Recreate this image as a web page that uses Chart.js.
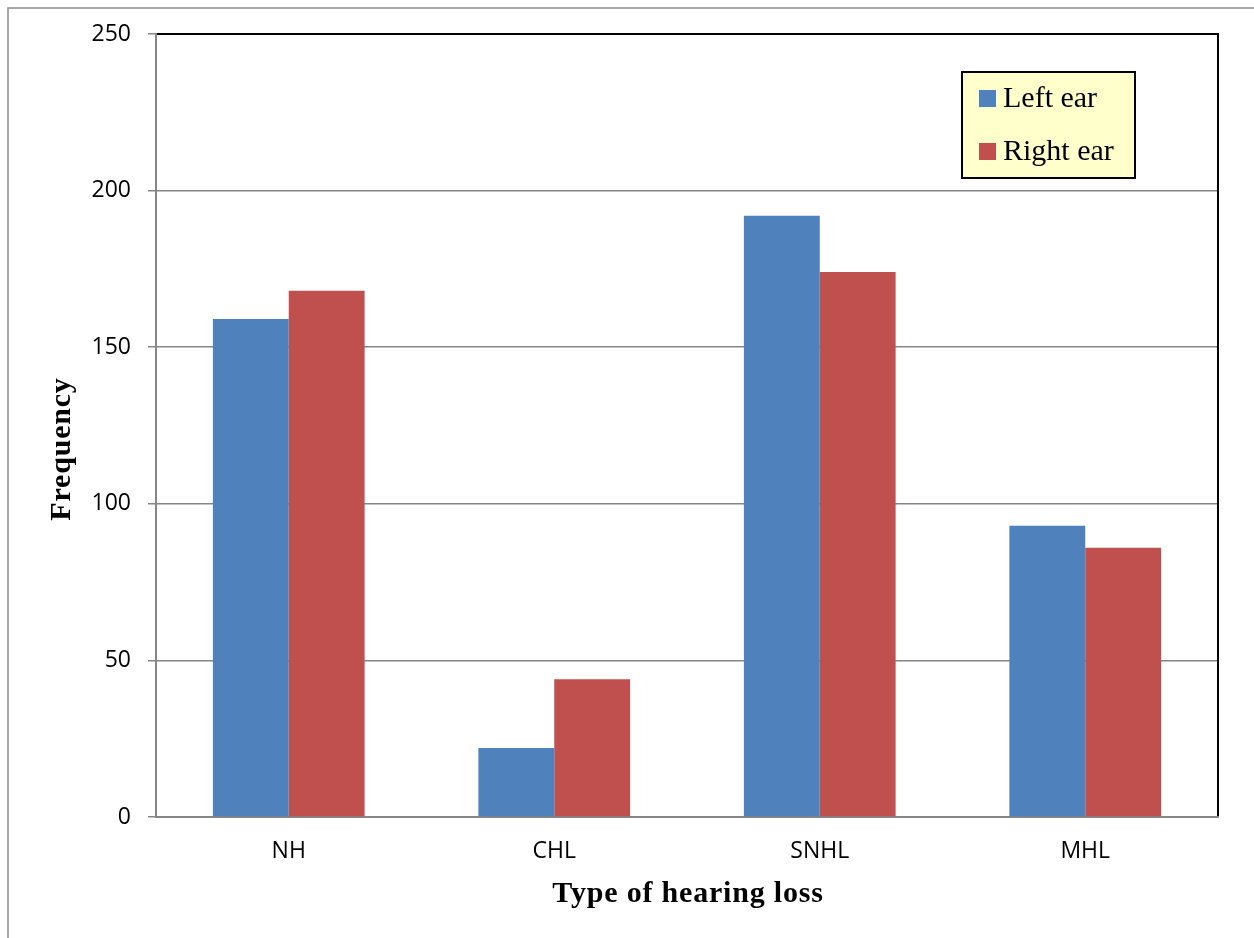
<!DOCTYPE html>
<html><head><meta charset="utf-8">
<script src="https://cdn.jsdelivr.net/npm/chart.js@4"></script>
<style>html,body{margin:0;padding:0;background:#fff}#wrap{width:1254px;height:938px;position:relative}</style>
</head><body><div id="wrap"><canvas id="c" width="1254" height="938"></canvas></div>
<script>
const categories = ['NH', 'CHL', 'SNHL', 'MHL'];
const leftEar = [159, 22, 192, 93];
const rightEar = [168, 44, 174, 86];
const seriesNames = ['Left ear', 'Right ear'];
const seriesColors = ['#4F81BD', '#C0504D'];
const yMin = 0, yMax = 250, yStep = 50;
const xTitle = 'Type of hearing loss';
const yTitle = 'Frequency';

const framePlugin = {
  id: 'frame',
  beforeDraw(chart) {
    const ctx = chart.ctx;
    ctx.save();
    ctx.fillStyle = '#fff';
    ctx.fillRect(0, 0, chart.width, chart.height);
    ctx.strokeStyle = '#8c8c8c';
    ctx.lineWidth = 1.5;
    ctx.strokeRect(8, 8, chart.width + 20, chart.height + 20);
    ctx.restore();
  },
  afterDraw(chart) {
    const ctx = chart.ctx;
    const a = chart.chartArea;
    ctx.save();
    ctx.strokeStyle = '#000';
    ctx.lineWidth = 2;
    ctx.beginPath();
    ctx.moveTo(a.left + 1, a.top);
    ctx.lineTo(a.right, a.top);
    ctx.lineTo(a.right, a.bottom - 1);
    ctx.stroke();
    // axis titles
    ctx.fillStyle = '#000';
    ctx.font = 'bold 30px "Liberation Serif", serif';
    if ('letterSpacing' in ctx) ctx.letterSpacing = '0.8px';
    ctx.textAlign = 'center';
    ctx.textBaseline = 'alphabetic';
    ctx.fillText(xTitle, (a.left + a.right) / 2 + 1, 902);
    ctx.save();
    ctx.translate(70, 449);
    ctx.rotate(-Math.PI / 2);
    ctx.fillText(yTitle, 0, 0);
    ctx.restore();
    if ('letterSpacing' in ctx) ctx.letterSpacing = '0px';
    // legend box
    const bx = 962, by = 72, bw = 173, bh = 106;
    ctx.fillStyle = '#FFFFCC';
    ctx.fillRect(bx, by, bw, bh);
    ctx.lineWidth = 2;
    ctx.strokeStyle = '#000';
    ctx.strokeRect(bx, by, bw, bh);
    ctx.font = '30px "Liberation Serif", serif';
    ctx.textBaseline = 'alphabetic';
    ctx.textAlign = 'left';
    chart.data.datasets.forEach((ds, i) => {
      const y = by + 18 + i * 53;
      ctx.fillStyle = ds.backgroundColor;
      ctx.fillRect(bx + 17, y, 17, 17);
      ctx.fillStyle = '#000';
      ctx.fillText(ds.label, bx + 41, y + 17);
    });
    ctx.restore();
  }
};

new Chart(document.getElementById('c'), {
  type: 'bar',
  data: {
    labels: categories,
    datasets: [
      { label: seriesNames[0], data: leftEar, backgroundColor: seriesColors[0], borderWidth: 0 },
      { label: seriesNames[1], data: rightEar, backgroundColor: seriesColors[1], borderWidth: 0 }
    ]
  },
  options: {
    responsive: false,
    animation: false,
    devicePixelRatio: 1,
    categoryPercentage: 2 / 3.5,
    barPercentage: 1,
    layout: { padding: { top: 34, right: 36, left: 0, bottom: 0 } },
    plugins: { legend: { display: false }, tooltip: { enabled: false } },
    scales: {
      x: {
        afterFit(s) { s.height = 121; },
        grid: { display: false, drawTicks: false },
        border: { display: true, color: '#868686', width: 2 },
        ticks: { color: '#000', padding: 21, font: { family: '"Open Sans", sans-serif', size: 23 } },
        title: { display: false, text: xTitle }
      },
      y: {
        min: yMin, max: yMax,
        afterFit(s) { s.width = 156; },
        ticks: { stepSize: yStep, color: '#000', padding: 17, font: { family: '"Open Sans", sans-serif', size: 23 } },
        grid: { color: '#868686', lineWidth: 1.5, tickLength: 8, tickColor: '#868686' },
        border: { display: true, color: '#868686', width: 2 },
        title: { display: false, text: yTitle }
      }
    }
  },
  plugins: [framePlugin]
});
</script></body></html>
